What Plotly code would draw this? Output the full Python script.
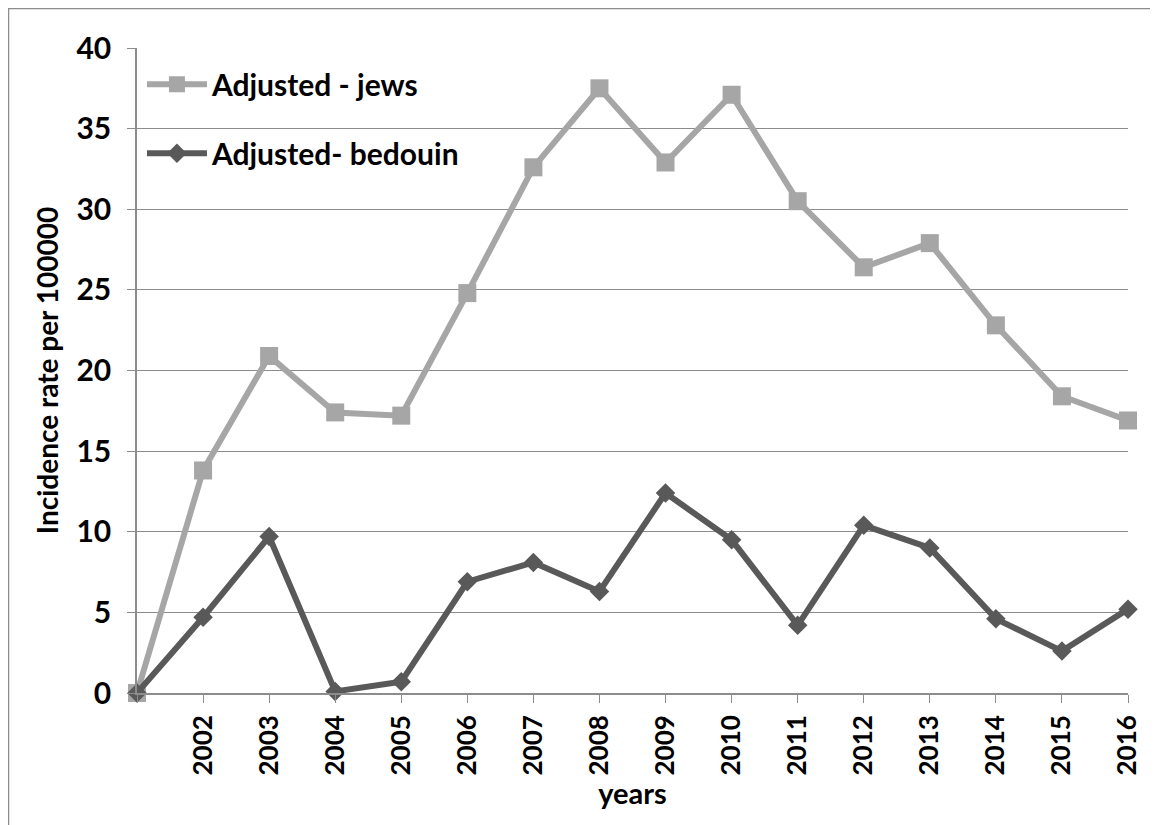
import plotly.graph_objects as go

years = list(range(2001, 2017))
tick_labels = [""] + [str(y) for y in range(2002, 2017)]
jews = [0, 13.8, 20.9, 17.4, 17.2, 24.8, 32.6, 37.5, 32.9, 37.1, 30.5, 26.4, 27.9, 22.8, 18.4, 16.9]
bedouin = [0, 4.7, 9.7, 0.1, 0.7, 6.9, 8.1, 6.3, 12.4, 9.5, 4.2, 10.4, 9.0, 4.6, 2.6, 5.2]

FONT = "Lato"
W, H = 1158, 825
ML, MR, MT, MB = 129, 38, 40, 140

fig = go.Figure()
fig.add_trace(go.Scatter(
    x=years, y=jews, name="Adjusted - jews", mode="lines+markers",
    line=dict(color="#a6a6a6", width=6),
    marker=dict(symbol="square", size=18, color="#a6a6a6"),
    cliponaxis=False, legendgroup="a"))
fig.add_trace(go.Scatter(
    x=years, y=bedouin, name="Adjusted- bedouin", mode="lines+markers",
    line=dict(color="#595959", width=6),
    marker=dict(symbol="diamond", size=15, color="#595959"),
    cliponaxis=False, legendgroup="b"))

pw = W - ML - MR
ph = H - MT - MB
fig.add_shape(type="rect", xref="paper", yref="paper",
              x0=(0.5 - ML) / pw, x1=(W + 10 - ML) / pw,
              y0=(H - MB - (H + 10)) / ph, y1=(H - MB - 0.5) / ph,
              line=dict(color="#8c8c8c", width=1.5), fillcolor="rgba(0,0,0,0)", layer="below")

fig.update_layout(
    width=W, height=H,
    margin=dict(l=ML, r=MR, t=MT, b=MB),
    paper_bgcolor="white", plot_bgcolor="white",
    font=dict(family=FONT, color="black"),
    showlegend=True,
    legend=dict(x=0.005, y=0.984, xanchor="left", yanchor="top",
                font=dict(family=FONT, size=30, color="black", weight="bold"),
                bgcolor="rgba(0,0,0,0)", traceorder="grouped", tracegroupgap=27,
                itemwidth=60),
    xaxis=dict(
        range=[years[0], years[-1]],
        tickmode="array", tickvals=years, ticktext=tick_labels,
        tickangle=-90, ticks="outside", ticklen=8, tickcolor="#8c8c8c",
        ticklabelstandoff=2,
        tickfont=dict(family=FONT, size=26, color="black", weight="bold"),
        showline=True, linecolor="#8c8c8c", linewidth=1.5,
        showgrid=False, zeroline=False,
        title=dict(text="years", font=dict(family=FONT, size=29, color="black", weight="bold"),
                   standoff=8),
    ),
    yaxis=dict(
        range=[0, 40], tickmode="linear", tick0=0, dtick=5,
        ticks="outside", ticklen=8, tickcolor="#8c8c8c", ticklabelstandoff=10,
        tickfont=dict(family=FONT, size=30, color="black", weight="bold"),
        showline=True, linecolor="#8c8c8c", linewidth=1.5,
        showgrid=True, gridcolor="#8c8c8c", gridwidth=1.2, zeroline=False,
        title=dict(text="Incidence rate per 100000",
                   font=dict(family=FONT, size=28, color="black", weight="bold"),
                   standoff=10),
    ),
)

fig.write_html("out.html")
